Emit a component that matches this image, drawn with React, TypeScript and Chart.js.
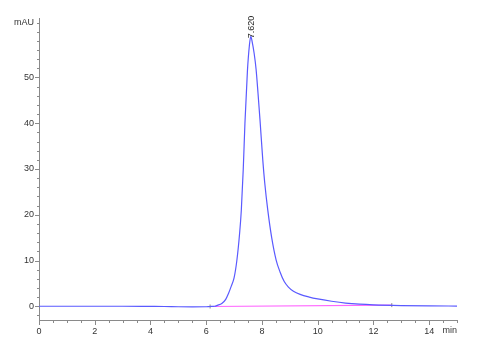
import React, { useEffect, useRef } from "react";
import { Chart, registerables } from "chart.js";

Chart.register(...registerables);

// Retention time (min) and absorbance (mAU)
const timeMin = [
  0, 1, 2, 3, 4, 4.5, 5.0, 5.5, 6.0, 6.14, 6.3, 6.4, 6.56, 6.7, 6.8, 6.9, 7.0, 7.1, 7.2, 7.26,
  7.33, 7.39, 7.48, 7.55, 7.6, 7.65, 7.72, 7.79, 7.86, 7.93, 8.03, 8.1, 8.21, 8.35, 8.51, 8.65, 8.8,
  8.95, 9.13, 9.37, 9.7, 10.0, 10.5, 11.0, 11.5, 12.0, 13.0, 14.0, 15.0,
];
const signalMAU = [
  0, 0, 0, 0, -0.03, -0.05, -0.1, -0.12, -0.1, -0.05, 0.0, 0.2, 0.6, 1.5, 2.8, 4.4, 6.2, 10, 16, 21,
  30, 40, 51.5, 57.0, 59.0, 57.8, 55.3, 51.8, 46.5, 40.8, 32, 27, 21, 15, 10.1, 7.5, 5.4,
  4.2, 3.3, 2.6, 2.0, 1.6, 1.1, 0.7, 0.45, 0.3, 0.15, 0.08, 0.05,
];
const baselineTime = [6.14, 12.66];
const baselineMAU = [-0.05, 0.25];
const peakLabel = "7.620";
const peakTime = 7.62;

const xMajorTicks = [0, 2, 4, 6, 8, 10, 12, 14];
const yMajorTicks = [0, 10, 20, 30, 40, 50];
const xMinorStep = 0.5;
const yMinorStep = 2;
const xRange = [0, 15];
const yRange = [-3, 63];
const xUnit = "min";
const yUnit = "mAU";

const FONT = "'Liberation Sans', Arial, sans-serif";

const decorPlugin = {
  id: "decor",
  afterDraw(chart: any) {
    const ctx = chart.ctx;
    const xs = chart.scales.x;
    const ys = chart.scales.y;
    const area = chart.chartArea;
    ctx.save();
    ctx.strokeStyle = "#8a8a8a";
    ctx.lineWidth = 1;
    for (let v = xRange[0]; v <= xRange[1] + 1e-9; v += xMinorStep) {
      const px = Math.round(xs.getPixelForValue(v)) + 0.5;
      const major = xMajorTicks.includes(v);
      ctx.beginPath();
      ctx.moveTo(px, area.bottom);
      ctx.lineTo(px, area.bottom + (major ? 5 : 3));
      ctx.stroke();
    }
    const yStart = Math.ceil(yRange[0] / yMinorStep) * yMinorStep;
    for (let v = yStart; v <= yRange[1] + 1e-9; v += yMinorStep) {
      const py = Math.round(ys.getPixelForValue(v)) + 0.5;
      const major = yMajorTicks.includes(v);
      ctx.beginPath();
      ctx.moveTo(area.left, py);
      ctx.lineTo(area.left - (major ? 4 : 2), py);
      ctx.stroke();
    }
    ctx.fillStyle = "#333";
    ctx.font = `9px ${FONT}`;
    ctx.textAlign = "right";
    ctx.textBaseline = "middle";
    ctx.fillText(yUnit, area.left - 5, ys.getPixelForValue(62));
    ctx.textAlign = "right";
    ctx.textBaseline = "top";
    ctx.fillText(xUnit, area.right, area.bottom + 6);
    let pi = 0;
    signalMAU.forEach((v, i) => { if (v > signalMAU[pi]) pi = i; });
    const ppx = xs.getPixelForValue(peakTime);
    const ppy = ys.getPixelForValue(signalMAU[pi]);
    ctx.translate(ppx, ppy + 2);
    ctx.rotate(-Math.PI / 2);
    ctx.fillStyle = "#222";
    ctx.textAlign = "left";
    ctx.textBaseline = "middle";
    ctx.fillText(peakLabel, 0, 0);
    ctx.restore();
  },
};

export default function App() {
  const ref = useRef<HTMLCanvasElement>(null);
  useEffect(() => {
    const chart = new Chart(ref.current!, {
      type: "line",
      data: {
        datasets: [
          {
            data: baselineTime.map((t, i) => ({ x: t, y: baselineMAU[i] })),
            borderColor: "#ff66ff",
            borderWidth: 1.2,
            pointRadius: 2,
            pointStyle: "line",
            rotation: 90,
            pointBorderColor: "#888",
            pointBorderWidth: 1,
            order: 2,
          },
          {
            data: timeMin.map((t, i) => ({ x: t, y: signalMAU[i] })),
            borderColor: "#5a5aff",
            borderWidth: 1.2,
            pointRadius: 0,
            cubicInterpolationMode: "monotone",
            order: 1,
          },
        ],
      },
      options: {
        animation: false,
        responsive: false,
        maintainAspectRatio: false,
        layout: { padding: { left: 0, top: 18, right: 20, bottom: 0 } },
        plugins: { legend: { display: false }, tooltip: { enabled: false } },
        scales: {
          x: {
            type: "linear",
            min: xRange[0],
            max: xRange[1],
            grid: { display: false, drawTicks: false },
            border: { display: true, color: "#8a8a8a" },
            ticks: { color: "#333", font: { size: 9, family: FONT }, padding: 6, maxRotation: 0 },
            afterBuildTicks: (s: any) => { s.ticks = xMajorTicks.map((v) => ({ value: v })); },
            afterFit: (s: any) => { s.height = 30; },
          },
          y: {
            type: "linear",
            min: yRange[0],
            max: yRange[1],
            grid: { display: false, drawTicks: false },
            border: { display: true, color: "#8a8a8a" },
            ticks: { color: "#333", font: { size: 9, family: FONT }, padding: 5 },
            afterBuildTicks: (s: any) => { s.ticks = yMajorTicks.map((v) => ({ value: v })); },
            afterFit: (s: any) => { s.width = 39; },
          },
        },
      },
      plugins: [decorPlugin],
    });
    return () => chart.destroy();
  }, []);
  return (
    <div style={{ position: "fixed", left: 0, top: 0, width: 477, height: 350, background: "#fff" }}>
      <canvas ref={ref} width={477} height={350} style={{ width: 477, height: 350 }} />
    </div>
  );
}
